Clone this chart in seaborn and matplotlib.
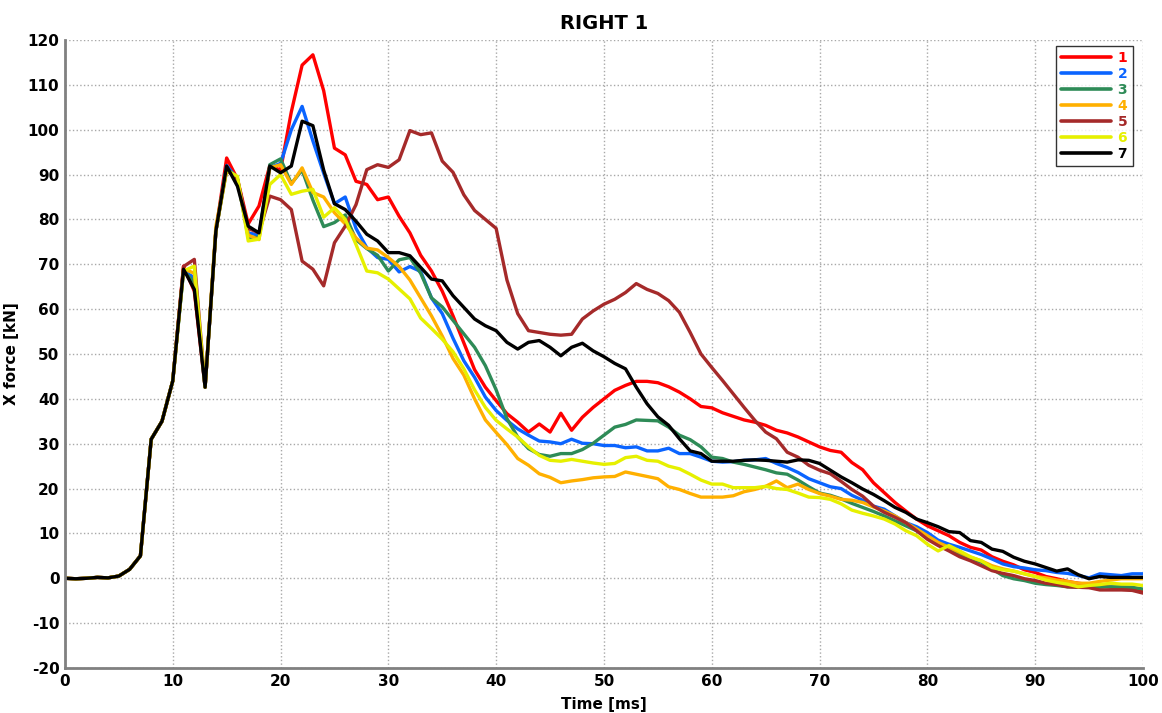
import numpy as np
import pandas as pd
import matplotlib
matplotlib.use("Agg")
import matplotlib.pyplot as plt
from matplotlib.lines import Line2D
from matplotlib.ticker import MultipleLocator
import seaborn as sns

# Time axis (ms), one sample per millisecond
time_ms = np.arange(0, 101)

# Shared onset of all channels (0..10 ms)
onset = [0, -0.1, 0, 0.2, 0.1, 0.5, 2, 5, 31, 35, 44]

force_1 = onset + [
    69.6, 64, 42.6, 77.4, 93.7, 89, 79, 83, 92, 91,
    104, 114.4, 116.7, 108.7, 95.9, 94.4, 88.5, 87.8, 84.4, 85,
    80.7, 77, 72, 68.5, 64, 58.5, 52.5, 46.5, 42.6, 39.6,
    36.7, 34.8, 32.6, 34.4, 32.6, 36.8, 33, 35.9, 38.1, 40,
    41.9, 43, 43.9, 43.9, 43.6, 42.7, 41.5, 40, 38.3, 38,
    36.9, 36.1, 35.3, 34.8, 34.1, 33, 32.4, 31.5, 30.4, 29.3,
    28.5, 28.1, 25.8, 24.2, 21.3, 19.1, 16.9, 15, 13.2, 11.7,
    10.6, 9.5, 8, 6.9, 6.3, 4.8, 3.8, 3, 1.9, 1.3,
    0.4, -0.1, -0.7, -1.1, -1.4, -1.6, -2, -2.1, -2.3, -2.7]

force_2 = onset + [
    68.5, 67, 42.6, 77.4, 92, 89, 77, 76.5, 91.5, 92.5,
    100, 105.2, 97.5, 90.3, 83.5, 85, 78, 73.7, 71.5, 71.1,
    68.3, 69.5, 68.4, 62.5, 59, 53.5, 48.5, 44.8, 40.4, 37.4,
    35.2, 33.3, 31.9, 30.6, 30.4, 30, 31, 30.1, 30, 29.6,
    29.6, 29.1, 29.3, 28.4, 28.4, 29, 27.8, 27.8, 27, 26.1,
    25.9, 26, 26.3, 26.4, 26.7, 25.6, 24.7, 23.6, 22.2, 21.3,
    20.4, 20, 18.5, 17.4, 16.1, 15.4, 13.9, 12.4, 11.5, 10.2,
    8.5, 7.6, 6.9, 6.1, 5.3, 4.3, 3.2, 2.6, 2.3, 1.9,
    1.7, 1.3, 1.1, 0.6, 0.1, 1, 0.8, 0.6, 1, 1]

force_3 = onset + [
    68.5, 66, 42.6, 77.4, 91.5, 89, 76, 76, 92.2, 93.5,
    88, 91, 84.3, 78.4, 79.3, 81, 75.5, 73.5, 72, 68.5,
    71, 71.5, 68, 62.5, 60.5, 57.5, 54.5, 51.5, 47.4, 42,
    35.6, 31.5, 28.9, 27.6, 27.2, 27.8, 27.8, 28.7, 30.1, 31.9,
    33.7, 34.3, 35.3, 35.2, 35.1, 33.7, 31.9, 30.9, 29.3, 27,
    26.7, 25.9, 25.4, 24.8, 24.2, 23.5, 23.2, 21.9, 20.4, 19,
    18.5, 17.7, 16.7, 15.8, 14.9, 13.9, 12.8, 11.7, 10.6, 9.1,
    7.6, 6.5, 5.4, 4.3, 3.6, 2.1, 0.6, -0.1, -0.5, -1.1,
    -1.4, -1.6, -1.9, -2, -2, -2, -1.9, -1.9, -2, -2.4]

force_4 = onset + [
    69, 68, 42.6, 78.5, 91, 89, 76.5, 75.5, 91.5, 92.2,
    87.8, 91.5, 86, 85, 81.5, 79, 75.9, 73.6, 73.2, 71.5,
    69.5, 66.5, 62.5, 58.5, 54, 49, 45.3, 40, 35.3, 32.5,
    29.8, 26.7, 25.2, 23.3, 22.5, 21.3, 21.7, 22, 22.4, 22.6,
    22.7, 23.7, 23.2, 22.7, 22.2, 20.4, 19.8, 18.9, 18.1, 18.1,
    18.1, 18.4, 19.3, 19.8, 20.5, 21.7, 20.2, 21, 19.8, 18.9,
    18.3, 17.6, 17.4, 16.9, 15.9, 15, 13.9, 12.4, 11, 9.5,
    8, 6.9, 5.8, 4.7, 3.9, 2.8, 2.1, 1.6, 1, 0.4,
    0.1, -0.4, -0.7, -1.1, -1.1, -0.7, -0.4, -0.1, -0.1, -0.1]

force_5 = onset + [
    69.5, 71.1, 42.6, 77.4, 91, 89, 78, 77, 85.2, 84.4,
    82.2, 70.7, 68.9, 65.2, 74.8, 78.5, 83.3, 91.1, 92.2, 91.6,
    93.3, 99.8, 98.9, 99.3, 93, 90.5, 85.5, 82, 80, 78,
    66.5, 59, 55.2, 54.8, 54.4, 54.2, 54.4, 57.8, 59.6, 61.1,
    62.2, 63.7, 65.7, 64.4, 63.5, 61.9, 59.3, 54.8, 50, 47,
    44.1, 41.1, 38.1, 35.2, 32.6, 31.1, 28.1, 27, 25.2, 24.1,
    23.3, 21.6, 19.8, 18.3, 16.1, 14.7, 13.6, 12.4, 10.6, 8.7,
    7.3, 6.1, 4.8, 3.9, 2.8, 1.7, 1.1, 0.6, -0.1, -0.5,
    -1.1, -1.4, -1.9, -2, -2.1, -2.6, -2.6, -2.6, -2.7, -3.3]

force_6 = onset + [
    68.5, 69.6, 42.6, 77.4, 91, 89.6, 75.2, 75.6, 87.8, 90,
    85.6, 86.3, 86.7, 80.5, 82.6, 80, 74.4, 68.5, 68.1, 66.7,
    64.5, 62.3, 58, 55.7, 53.3, 50.5, 46.7, 42, 38.1, 35.2,
    33.3, 31.5, 29.3, 27.4, 26.3, 26.1, 26.5, 26.1, 25.7, 25.4,
    25.6, 26.9, 27.2, 26.3, 26.1, 25, 24.4, 23.2, 21.9, 21,
    21, 20.2, 20.2, 20.2, 20.5, 20, 19.8, 19, 18.1, 18,
    17.6, 16.6, 15.2, 14.5, 13.9, 13.2, 12.1, 10.6, 9.5, 7.6,
    6.1, 7.3, 6.1, 4.8, 3.9, 2.4, 1.9, 1.6, 1, 0.4,
    -0.4, -0.9, -1.3, -1.9, -1.6, -1.4, -1.1, -1.3, -1.3, -1.6]

force_7 = onset + [
    68.9, 64.4, 42.6, 77.4, 91.9, 87.4, 78.5, 77, 91.9, 90.4,
    91.9, 101.9, 100.9, 91, 83.5, 82.2, 79.6, 76.7, 75.2, 72.6,
    72.6, 71.9, 69.3, 66.7, 66.3, 63, 60.4, 57.8, 56.3, 55.2,
    52.6, 51.1, 52.6, 53, 51.5, 49.6, 51.5, 52.4, 50.7, 49.4,
    47.9, 46.7, 42.6, 38.9, 36, 34.1, 31.1, 28.4, 27.8, 26.1,
    26.1, 26.1, 26.3, 26.4, 26.3, 26.1, 25.9, 26.4, 26.3, 25.6,
    24.1, 22.6, 21.3, 19.9, 18.7, 17.3, 15.8, 14.7, 13.2, 12.4,
    11.5, 10.4, 10.2, 8.4, 8, 6.5, 6, 4.7, 3.8, 3.2,
    2.4, 1.6, 2.1, 0.8, -0.1, 0.4, 0.2, 0.2, 0.2, 0.2]

series_names = ["1", "2", "3", "4", "5", "6", "7"]
series_values = [force_1, force_2, force_3, force_4, force_5, force_6, force_7]
series_colors = ["#FF0000", "#0A64FF", "#2E8B57", "#FFB000",
                 "#A52A2A", "#E6F000", "#000000"]

x_ticks = list(range(0, 101, 10))
y_ticks = list(range(-20, 121, 10))

df = pd.concat(
    [pd.DataFrame({"Time": time_ms, "Force": vals, "Series": name})
     for name, vals in zip(series_names, series_values)],
    ignore_index=True)

sns.set_style("white")
plt.rcParams["font.family"] = ["DejaVu Sans"]
plt.rcParams["axes.unicode_minus"] = False
plt.rcParams["text.color"] = "black"
plt.rcParams["axes.labelcolor"] = "black"
plt.rcParams["xtick.labelcolor"] = "black"
plt.rcParams["ytick.labelcolor"] = "black"

fig = plt.figure(figsize=(11.62, 7.13), dpi=100)
ax = fig.add_axes([0.0559, 0.0631, 0.9277, 0.8808])

palette = dict(zip(series_names, series_colors))
sns.lineplot(data=df, x="Time", y="Force", hue="Series",
             hue_order=series_names, palette=palette,
             linewidth=2.4, legend=False, ax=ax)

ax.set_xlim(0, 100)
ax.set_ylim(-20, 120)
ax.set_xticks(x_ticks)
ax.set_yticks(y_ticks)
ax.xaxis.set_minor_locator(MultipleLocator(5))
ax.yaxis.set_minor_locator(MultipleLocator(5))
ax.tick_params(axis="both", which="major", direction="in", length=5,
               color="#808080", labelsize=11, pad=4, labelcolor="black")
ax.tick_params(axis="both", which="minor", direction="in", length=3,
               color="#808080")
for lab in ax.get_xticklabels() + ax.get_yticklabels():
    lab.set_fontweight("bold")

ax.grid(True, which="major", linestyle=":", color="#a8a8a8", linewidth=1.0)
ax.set_axisbelow(True)

for side in ["top", "right"]:
    ax.spines[side].set_visible(False)
for side in ["left", "bottom"]:
    ax.spines[side].set_color("#808080")
    ax.spines[side].set_linewidth(2)

ax.set_xlabel("Time [ms]", fontsize=11, fontweight="bold", labelpad=6,
              color="black")
ax.set_ylabel("X force [kN]", fontsize=11, fontweight="bold", labelpad=6,
              color="black")
ax.set_title("RIGHT 1", fontsize=14, fontweight="bold", pad=8, color="black")

handles = [Line2D([0], [0], color=c, linewidth=2.6) for c in series_colors]
leg = ax.legend(handles, series_names, loc="upper right",
                bbox_to_anchor=(0.997, 1.002), frameon=True, fancybox=False,
                edgecolor="black", handlelength=3.6, handletextpad=0.45,
                labelspacing=0.14, borderpad=0.4,
                prop={"weight": "bold", "size": 10})
leg.get_frame().set_linewidth(1.0)
for txt, c in zip(leg.get_texts(), series_colors):
    txt.set_color(c)

fig.savefig("out.png", dpi=100)
